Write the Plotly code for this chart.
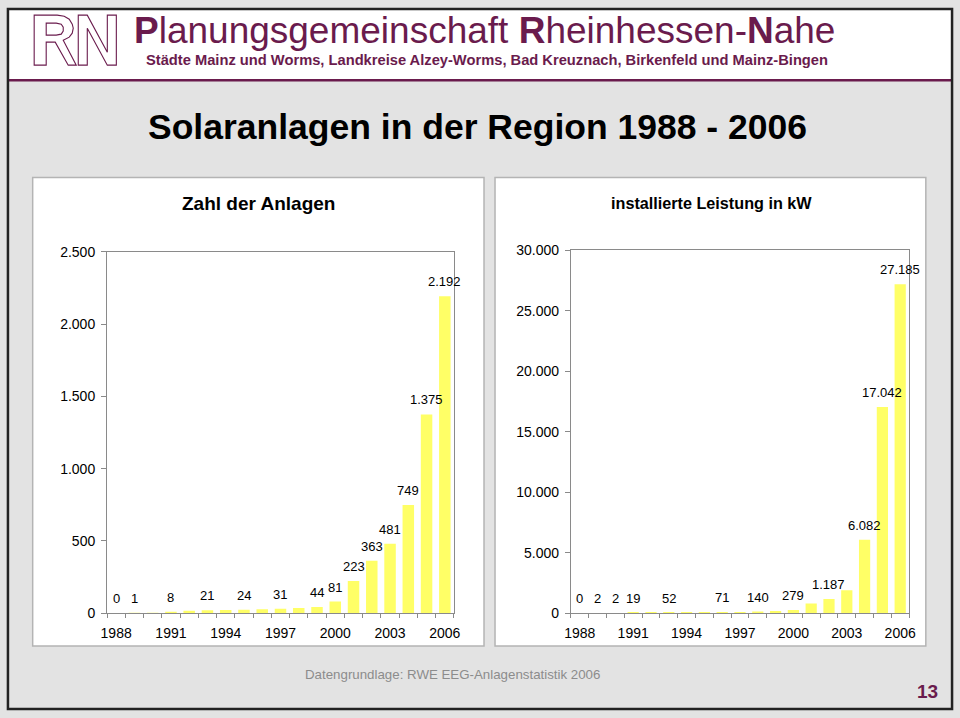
import plotly.graph_objects as go

W, H = 960, 718
# the rendered page comes out slightly shrunk with a small border;
# layout positions below are in target-picture pixels and get mapped back
OX, SX = 7.87, 0.9836
OY, SY = 7.83, 0.978

# ---- data -------------------------------------------------------------
years = [1988, 1989, 1990, 1991, 1992, 1993, 1994, 1995, 1996, 1997,
         1998, 1999, 2000, 2001, 2002, 2003, 2004, 2005, 2006]
year_ticks = [1988, 1991, 1994, 1997, 2000, 2003, 2006]

# Zahl der Anlagen (cumulative)
anlagen = [0, 1, 3, 8, 18, 21, 22, 24, 28, 31, 37, 44, 81, 223, 363, 481, 749, 1375, 2192]
anlagen_label_years = [1988, 1989, 1991, 1993, 1995, 1997, 1999, 2000,
                       2001, 2002, 2003, 2004, 2005, 2006]

# installierte Leistung in kW (cumulative)
leistung = [0, 2, 2, 19, 35, 52, 58, 64, 71, 110, 140, 195, 279, 800, 1187, 1900, 6082, 17042, 27185]
leistung_label_years = [1988, 1989, 1990, 1991, 1993, 1996, 1998, 2000,
                        2002, 2004, 2005, 2006]

MAROON = "#6a1b4d"
BAR = "#ffff66"
AXIS = "#8a8a8a"
BG = "#e3e3e3"
FONT = "Liberation Sans, Arial, sans-serif"


def px(x):
    return (x - OX) / SX / W


def py(y):
    return 1 - (y - OY) / SY / H


def de_num(v):
    return f"{v:,}".replace(",", ".")


def poly(pts):
    return "M " + " L ".join(f"{px(x):.5f},{py(y):.5f}" for x, y in pts) + " Z"


fig = go.Figure()
annotations = []

for vals, shown, xa, ya in ((anlagen, anlagen_label_years, "x", "y"),
                            (leistung, leistung_label_years, "x2", "y2")):
    fig.add_trace(go.Bar(
        x=years, y=vals, marker=dict(color=BAR, line=dict(width=0)),
        hoverinfo="skip", showlegend=False, xaxis=xa, yaxis=ya,
    ))
    for yr, v in zip(years, vals):
        if yr in shown:
            annotations.append(dict(
                x=yr, y=v, xref=xa, yref=ya, text=de_num(v), showarrow=False,
                xanchor="center", yanchor="bottom", yshift=5,
                font=dict(size=13, color="black", family=FONT),
            ))

xcommon = dict(
    range=[1987.5, 2006.5], tickmode="array", tickvals=year_ticks,
    ticks="", showline=True, linecolor=AXIS, linewidth=1, mirror=True,
    showgrid=False, zeroline=False, fixedrange=True, ticklabelstandoff=7,
    tickfont=dict(size=14, color="black", family=FONT),
    minor=dict(ticks="outside", tick0=1987.5, dtick=1, ticklen=4,
               tickcolor=AXIS, showgrid=False),
)
ycommon = dict(
    ticks="outside", ticklen=5, tickcolor=AXIS, showline=True, linecolor=AXIS,
    linewidth=1, mirror=True, showgrid=False, zeroline=False, fixedrange=True,
    tickformat=",d", ticklabelstandoff=3,
    tickfont=dict(size=14, color="black", family=FONT),
)

shapes = [
    # header band
    dict(type="rect", xref="paper", yref="paper", x0=0, x1=1, y0=py(79), y1=1,
         fillcolor="white", line=dict(width=0), layer="below"),
    dict(type="line", xref="paper", yref="paper", x0=0, x1=1, y0=py(80), y1=py(80),
         line=dict(color=MAROON, width=2.5), layer="below"),
    # chart panels
    dict(type="rect", xref="paper", yref="paper", x0=px(33.5), x1=px(484), y0=py(177.5), y1=py(646),
         fillcolor="white", line=dict(color="#b4b4b4", width=1.5), layer="below"),
    dict(type="rect", xref="paper", yref="paper", x0=px(495), x1=px(925), y0=py(177.5), y1=py(646),
         fillcolor="white", line=dict(color="#b4b4b4", width=1.5), layer="below"),
    # outer frame
    dict(type="rect", xref="paper", yref="paper", x0=0.001, x1=0.999, y0=0.0015, y1=0.9985,
         line=dict(color="#222222", width=2.5), layer="below"),
]

# RN logo outlines
logo_r = [(35, 15), (58, 15), (65, 16), (70, 19), (73, 24), (74, 28), (73, 33), (70, 37),
          (64, 40), (77, 65), (69, 65), (56, 42), (47, 42), (47, 65), (35, 65)]
logo_r_in = [(47, 23), (57, 23), (62, 24), (64, 27), (64, 31), (62, 34), (57, 35), (47, 35)]
logo_n = [(79, 15), (88, 15), (108, 52), (108, 15), (117, 15), (117, 65), (108, 65),
          (88, 28), (88, 65), (79, 65)]
for pts in (logo_r, logo_r_in, logo_n):
    shapes.append(dict(type="path", xref="paper", yref="paper", path=poly(pts),
                       line=dict(color=MAROON, width=1.1), layer="below"))


def ann(x, y, text, size, color="black", xanchor="center", bold=False):
    return dict(x=px(x), y=py(y), xref="paper", yref="paper", text=text,
                showarrow=False, xanchor=xanchor, yanchor="middle",
                font=dict(size=size, color=color, family=FONT,
                          weight="bold" if bold else "normal"))


annotations += [
    ann(133, 30, "<b>P</b>lanungsgemeinschaft <b>R</b>heinhessen-<b>N</b>ahe", 37, MAROON, "left"),
    ann(145, 60, "Städte Mainz und Worms, Landkreise Alzey-Worms, Bad Kreuznach, Birkenfeld und Mainz-Bingen",
        14.7, MAROON, "left", bold=True),
    ann(478, 127, "Solaranlagen in der Region 1988 - 2006", 35.5, "black", bold=True),
    ann(259, 203, "Zahl der Anlagen", 19, "black", bold=True),
    ann(711, 203, "installierte Leistung in kW", 16.2, "black", bold=True),
    ann(453, 675, "Datengrundlage: RWE EEG-Anlagenstatistik 2006", 13.3, "#8c8c8c"),
    ann(927, 692, "13", 19, MAROON, bold=True),
]

fig.update_layout(
    width=W, height=H,
    margin=dict(l=0, r=0, t=0, b=0),
    paper_bgcolor=BG, plot_bgcolor="white",
    separators=",.",
    bargap=0.37,
    font=dict(family=FONT, color="black"),
    xaxis=dict(domain=[px(107.7), px(454)], anchor="y", **xcommon),
    yaxis=dict(domain=[py(613.3), py(251.7)], anchor="x", range=[0, 2500], dtick=500, **ycommon),
    xaxis2=dict(domain=[px(570.7), px(908.3)], anchor="y2", **xcommon),
    yaxis2=dict(domain=[py(613.3), py(250)], anchor="x2", range=[0, 30000], dtick=5000, **ycommon),
    shapes=shapes,
    annotations=annotations,
)

page_fix = (
    "document.documentElement.style.margin='0';"
    "document.body.style.margin='0';"
    "document.documentElement.style.overflow='hidden';"
    "document.body.style.overflow='hidden';"
)
fig.write_html("out.html", config={"displayModeBar": False}, post_script=page_fix)
